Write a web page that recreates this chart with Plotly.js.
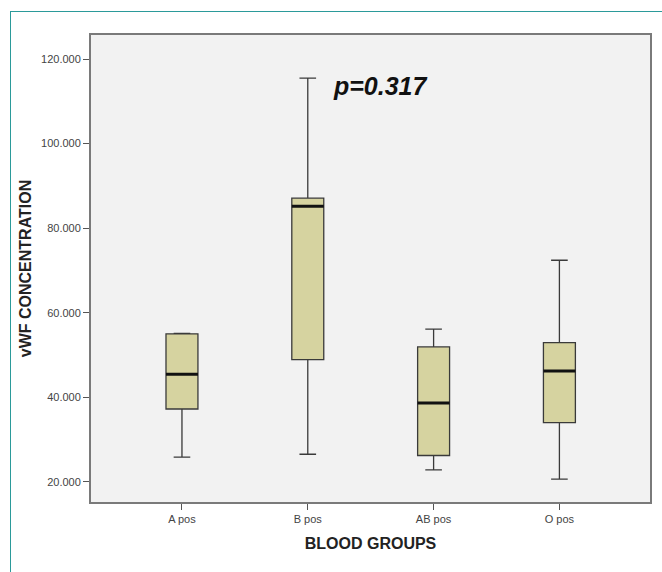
<!DOCTYPE html>
<html>
<head>
<meta charset="utf-8">
<script src="https://cdn.plot.ly/plotly-3.0.1.min.js"></script>
<style>
html,body{margin:0;padding:0;background:#fff;}
#frame{position:absolute;left:10px;top:11px;width:660px;height:570px;border-left:1.5px solid #2b9a9a;border-top:1.5px solid #2b9a9a;}
#chart{position:absolute;left:0;top:0;width:662px;height:572px;}
</style>
</head>
<body>
<div id="frame"></div>
<div id="chart"></div>
<script>
// Data
var groups = ["A pos", "B pos", "AB pos", "O pos"];
var lowerWhisker = [25.8, 26.5, 22.8, 20.6];
var q1 = [37.2, 48.9, 26.2, 34.0];
var medians = [45.4, 85.2, 38.6, 46.2];
var q3 = [55.0, 87.1, 51.9, 52.9];
var upperWhisker = [55.1, 115.5, 56.1, 72.4];
var yTickVals = [20, 40, 60, 80, 100, 120];
var pLabel = "p=0.317";

var boxWidth = 0.254;

var trace = {
  type: "box",
  x: groups,
  q1: q1,
  median: medians,
  q3: q3,
  lowerfence: lowerWhisker,
  upperfence: upperWhisker,
  fillcolor: "#d6d3a0",
  line: {color: "#3a3a3a", width: 1.3},
  width: boxWidth,
  whiskerwidth: 0.52,
  boxpoints: false,
  hoverinfo: "skip",
  showlegend: false
};

var shapes = medians.map(function (m, i) {
  return {
    type: "line", xref: "x", yref: "y",
    x0: i - boxWidth / 2, x1: i + boxWidth / 2, y0: m, y1: m,
    line: {color: "#111", width: 3}
  };
});

var layout = {
  width: 662, height: 572,
  margin: {l: 91, r: 12, t: 35, b: 70},
  paper_bgcolor: "rgba(0,0,0,0)",
  plot_bgcolor: "#f2f2f2",
  font: {family: "Liberation Sans, Arial, sans-serif", color: "#333"},
  xaxis: {
    type: "category",
    range: [-0.723, 3.72],
    showline: true, mirror: true, linecolor: "#7a7a7a", linewidth: 2,
    ticks: "outside", ticklen: 6, tickcolor: "#555", tickwidth: 1,
    tickfont: {size: 11, color: "#444"},
    showgrid: false, zeroline: false,
    title: {text: "<b>BLOOD GROUPS</b>", font: {size: 16, color: "#222"}, standoff: 14}
  },
  yaxis: {
    range: [15.2, 125.7],
    tickvals: yTickVals,
    tickformat: ".3f",
    showline: true, mirror: true, linecolor: "#7a7a7a", linewidth: 2,
    ticks: "outside", ticklen: 6, tickcolor: "#555", tickwidth: 1,
    tickfont: {size: 11, color: "#444"},
    showgrid: false, zeroline: false,
    title: {text: "<b>vWF CONCENTRATION</b>", font: {size: 16, color: "#222"}, standoff: 5}
  },
  shapes: shapes,
  annotations: [{
    xref: "x", yref: "y", x: 1.58, y: 113.6,
    text: "<b><i>" + pLabel + "</i></b>",
    showarrow: false,
    font: {size: 25, color: "#111", family: "Liberation Sans, Arial, sans-serif"},
    xanchor: "center", yanchor: "middle"
  }]
};

Plotly.newPlot("chart", [trace], layout, {displayModeBar: false, staticPlot: true});
</script>
</body>
</html>
